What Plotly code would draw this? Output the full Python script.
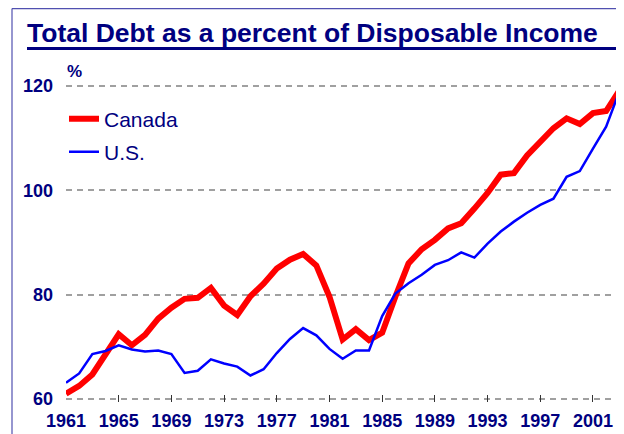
import plotly.graph_objects as go

years = list(range(1961, 2004))

canada = [61.0, 62.5, 64.7, 68.4, 72.4, 70.3, 72.3, 75.4, 77.5, 79.2,
          79.4, 81.3, 77.9, 76.1, 79.7, 82.1, 85.0, 86.7, 87.8, 85.6,
          79.6, 71.4, 73.4, 71.3, 72.7, 79.6, 86.0, 88.7, 90.5, 92.7,
          93.7, 96.5, 99.5, 103.0, 103.3, 106.7, 109.4, 111.9, 113.8, 112.7,
          114.8, 115.2, 119.1]

us = [63.1, 64.9, 68.6, 69.2, 70.3, 69.5, 69.1, 69.3, 68.6, 65.0,
      65.4, 67.6, 66.8, 66.2, 64.5, 65.7, 68.8, 71.5, 73.6, 72.2,
      69.6, 67.7, 69.3, 69.3, 75.9, 80.2, 82.2, 83.8, 85.7, 86.6,
      88.1, 87.1, 89.8, 92.1, 94.0, 95.7, 97.2, 98.4, 102.6, 103.7,
      108.0, 112.2, 118.9]

x_ticks = list(range(1961, 2002, 4))
y_ticks = [60, 80, 100, 120]

NAVY = "#000080"
FONT = "Liberation Sans, Arial, sans-serif"

# the page body has an 8px margin, so the figure is laid out from (8, 8)
OFF = 8
W, H = 624 - OFF, 434 - OFF
ML, MR, MT, MB = 66 - OFF, 2, 81 - OFF, 32


def px_x(p):
    # window pixel -> paper x
    return (p - OFF - ML) / (W - ML - MR)


def px_y(p):
    # window pixel -> paper y
    return (H - MB - (p - OFF)) / (H - MT - MB)


fig = go.Figure()
fig.add_trace(go.Scatter(x=years, y=canada, name="Canada", mode="lines",
                         line=dict(color="#FF0000", width=6), legend="legend"))
fig.add_trace(go.Scatter(x=years, y=us, name="U.S.", mode="lines",
                         line=dict(color="#0000FF", width=2.5), legend="legend2"))

legend_style = dict(xanchor="left", yanchor="middle", bgcolor="rgba(0,0,0,0)",
                    font=dict(family=FONT, size=21, color=NAVY))

fig.update_layout(
    width=W, height=H,
    margin=dict(l=ML, r=MR, t=MT, b=MB),
    paper_bgcolor="white", plot_bgcolor="white",
    showlegend=True,
    legend=dict(x=px_x(64), y=px_y(119), **legend_style),
    legend2=dict(x=px_x(64), y=px_y(152), **legend_style),
    title=dict(text="Total Debt as a percent of Disposable Income",
               x=(27 - OFF) / W, xanchor="left", xref="container",
               y=1 - (33 - OFF) / H, yanchor="middle", yref="container",
               font=dict(family=FONT, size=26.5, color=NAVY, weight="bold")),
    xaxis=dict(range=[1961, 1961 + (W - ML - MR) / 13.174],
               tickvals=x_ticks, ticks="inside", ticklen=7, tickcolor="#333333",
               tickwidth=1, showgrid=False, zeroline=False, showline=False,
               ticklabelstandoff=6,
               tickfont=dict(family=FONT, size=18, color=NAVY, weight="bold")),
    yaxis=dict(range=[59.42, 120.96], tickvals=y_ticks, showgrid=True,
               gridcolor="#A0A0A0", gridwidth=1.5, griddash="6px,5px",
               zeroline=False, showline=False, ticks="", ticklabelstandoff=12,
               tickfont=dict(family=FONT, size=18, color=NAVY, weight="bold")),
)

fig.add_annotation(text="%", xref="paper", yref="paper", x=px_x(65), y=px_y(71),
                   xanchor="left", yanchor="middle", showarrow=False,
                   font=dict(family=FONT, size=17, color=NAVY, weight="bold"))

# title underline and the slide frame
fig.add_shape(type="line", xref="paper", yref="paper",
              x0=px_x(27), x1=px_x(619), y0=px_y(48.5), y1=px_y(48.5),
              line=dict(color=NAVY, width=3))
fig.add_shape(type="line", xref="paper", yref="paper",
              x0=px_x(12), x1=px_x(640), y0=px_y(8.6), y1=px_y(8.6),
              line=dict(color="#5050B0", width=1.2))
fig.add_shape(type="line", xref="paper", yref="paper",
              x0=px_x(12), x1=px_x(12), y0=px_y(8.6), y1=px_y(450),
              line=dict(color="#5050B0", width=1.2))

fig.write_html("out.html")
